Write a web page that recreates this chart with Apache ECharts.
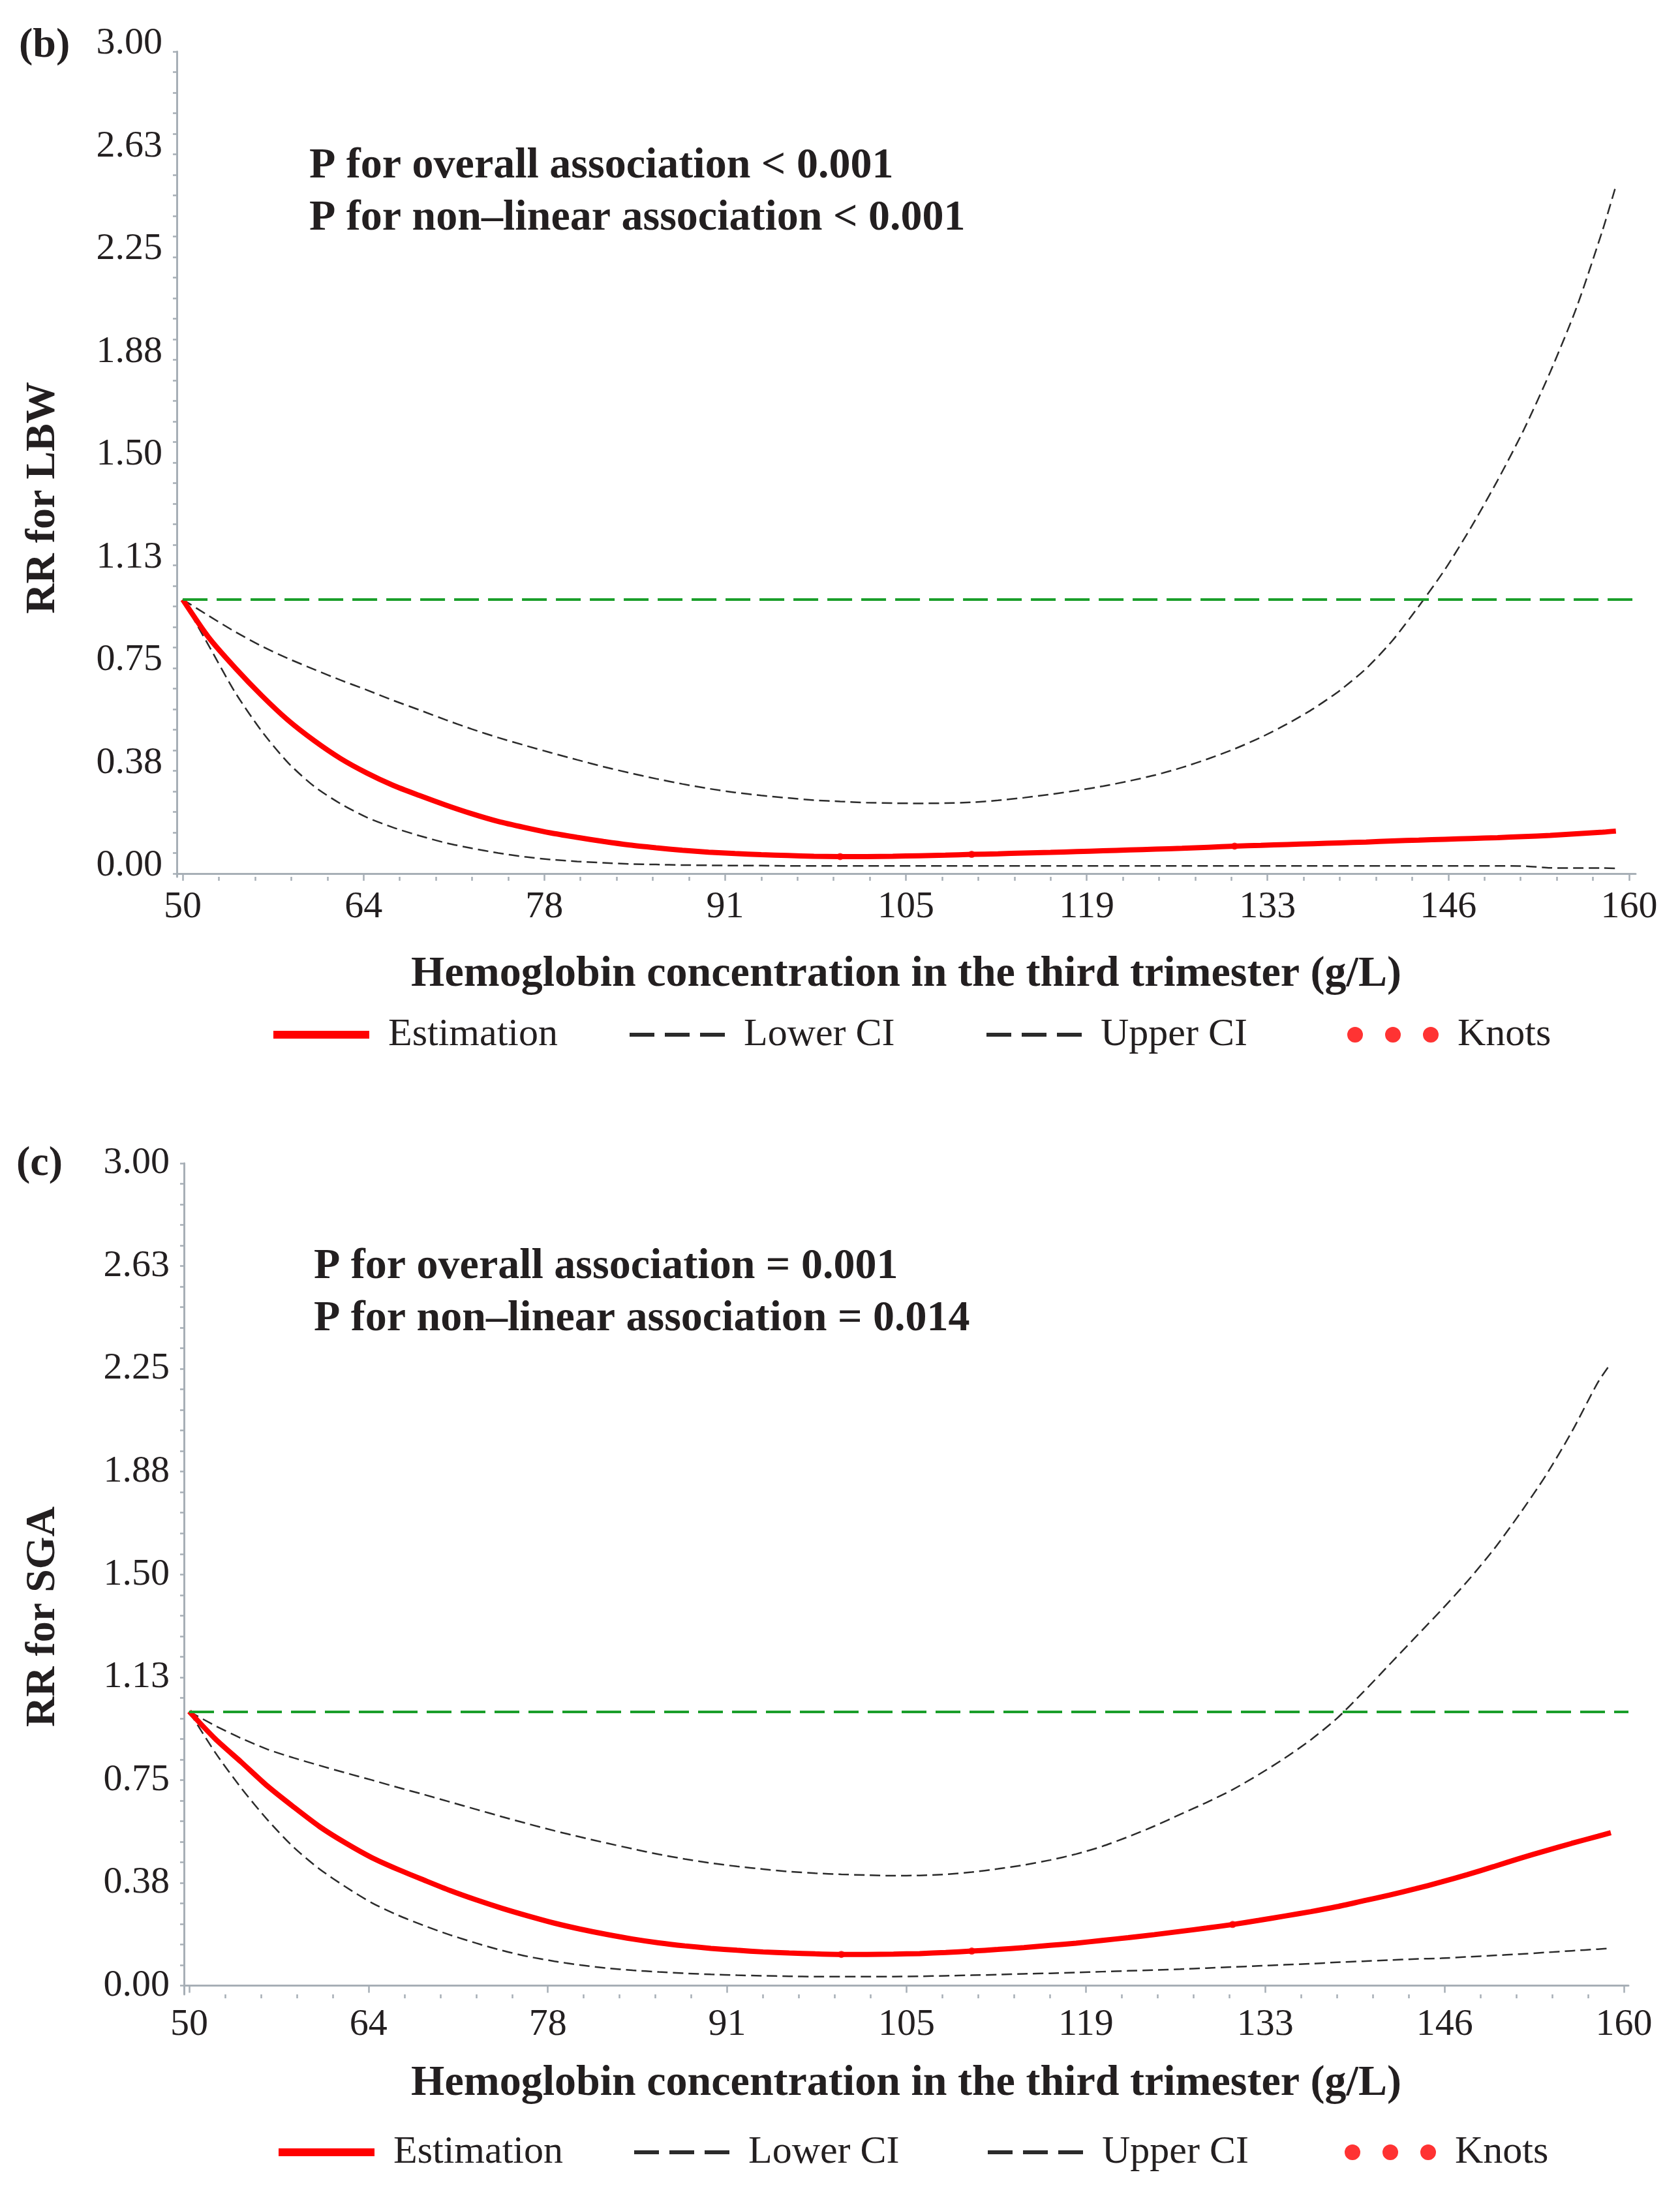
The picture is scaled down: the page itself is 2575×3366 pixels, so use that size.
<!DOCTYPE html>
<html>
<head>
<meta charset="utf-8">
<title>RR for LBW and SGA by third-trimester hemoglobin</title>
<script src="https://cdn.jsdelivr.net/npm/echarts@6/dist/echarts.min.js"></script>
<style>
html, body { margin: 0; padding: 0; background: #ffffff; }
#main { width: 2575px; height: 3366px; }
</style>
</head>
<body>
<div id="main"></div>
<script>
// hemoglobin values (g/L) where the curves were read
var hbX = [50, 52, 54, 56, 58, 60, 62, 64, 66, 68, 70, 72, 74, 76, 78, 80, 82, 84, 86, 88,
  90, 92, 94, 96, 98, 100, 102, 104, 106, 108, 110, 112, 114, 116, 118, 120, 122, 124, 126, 128,
  130, 132, 134, 136, 138, 140, 142, 144, 146, 148, 150, 152, 154, 156, 158, 159];

// (b) LBW
var lbwEst = [1.0, 0.86, 0.75, 0.65, 0.56, 0.485, 0.42, 0.367, 0.322, 0.285, 0.25, 0.218, 0.19, 0.168, 0.148, 0.132, 0.117, 0.104, 0.094, 0.085,
  0.078, 0.073, 0.069, 0.066, 0.063, 0.062, 0.062, 0.063, 0.065, 0.067, 0.07, 0.072, 0.075, 0.077, 0.08, 0.083, 0.086, 0.089, 0.092, 0.096,
  0.10, 0.103, 0.106, 0.109, 0.112, 0.115, 0.119, 0.122, 0.125, 0.128, 0.131, 0.135, 0.139, 0.145, 0.151, 0.155];
var lbwLower = [1.0, 0.83, 0.66, 0.52, 0.405, 0.318, 0.255, 0.205, 0.168, 0.138, 0.112, 0.092, 0.075, 0.061, 0.051, 0.044, 0.039, 0.035, 0.033, 0.031,
  0.03, 0.029, 0.029, 0.028, 0.028, 0.028, 0.028, 0.028, 0.028, 0.028, 0.028, 0.028, 0.028, 0.028, 0.028, 0.028, 0.028, 0.028, 0.028, 0.028,
  0.028, 0.028, 0.028, 0.028, 0.028, 0.028, 0.028, 0.028, 0.028, 0.028, 0.028, 0.027, 0.021, 0.02, 0.02, 0.019];
var lbwUpper = [1.0, 0.94, 0.882, 0.83, 0.785, 0.745, 0.706, 0.67, 0.632, 0.597, 0.561, 0.527, 0.496, 0.468, 0.441, 0.415, 0.39, 0.367, 0.346, 0.327,
  0.31, 0.296, 0.285, 0.276, 0.268, 0.263, 0.259, 0.257, 0.256, 0.257, 0.26, 0.267, 0.277, 0.289, 0.303, 0.319, 0.338, 0.36, 0.387, 0.419,
  0.455, 0.497, 0.546, 0.602, 0.668, 0.748, 0.85, 0.975, 1.11, 1.265, 1.435, 1.62, 1.83, 2.065, 2.35, 2.51];

// (c) SGA
var sgaEst = [1.0, 0.90, 0.815, 0.728, 0.652, 0.58, 0.52, 0.467, 0.424, 0.385, 0.347, 0.313, 0.282, 0.254, 0.228, 0.206, 0.187, 0.17, 0.156, 0.145,
  0.136, 0.129, 0.123, 0.119, 0.116, 0.114, 0.114, 0.115, 0.117, 0.121, 0.126, 0.132, 0.139, 0.147, 0.155, 0.165, 0.175, 0.186, 0.198, 0.21,
  0.223, 0.238, 0.254, 0.27, 0.288, 0.309, 0.33, 0.353, 0.378, 0.405, 0.434, 0.464, 0.492, 0.519, 0.545, 0.558];
var sgaLower = [1.0, 0.85, 0.72, 0.605, 0.505, 0.425, 0.36, 0.302, 0.257, 0.219, 0.185, 0.155, 0.128, 0.106, 0.089, 0.075, 0.064, 0.056, 0.05, 0.045,
  0.041, 0.038, 0.036, 0.034, 0.033, 0.033, 0.033, 0.033, 0.034, 0.036, 0.038, 0.04, 0.043, 0.045, 0.048, 0.051, 0.054, 0.057, 0.06, 0.064,
  0.068, 0.072, 0.076, 0.08, 0.085, 0.089, 0.093, 0.097, 0.10, 0.105, 0.11, 0.115, 0.121, 0.127, 0.133, 0.136];
var sgaUpper = [1.0, 0.948, 0.902, 0.862, 0.831, 0.803, 0.776, 0.75, 0.723, 0.697, 0.67, 0.643, 0.616, 0.59, 0.565, 0.542, 0.52, 0.499, 0.479, 0.462,
  0.447, 0.435, 0.425, 0.416, 0.41, 0.406, 0.403, 0.401, 0.402, 0.406, 0.414, 0.426, 0.44, 0.458, 0.48, 0.508, 0.543, 0.582, 0.625, 0.668,
  0.715, 0.77, 0.83, 0.897, 0.975, 1.07, 1.17, 1.27, 1.37, 1.475, 1.59, 1.72, 1.86, 2.02, 2.2, 2.27];

// spline knots
var knotX = [100, 110, 130];
var lbwKnots = [0.062, 0.07, 0.10];
var sgaKnots = [0.114, 0.126, 0.223];

// axis ticks
var xTicks = [50, 63.75, 77.5, 91.25, 105, 118.75, 132.5, 146.25, 160];
var yTicks = [0, 0.375, 0.75, 1.125, 1.5, 1.875, 2.25, 2.625, 3];
var refRR = 1;

var FONT = 'Liberation Serif';
var INK = '#231f20';
var AXIS_COLOR = '#a7afb6';
var CI_COLOR = '#2b2b2b';
var DASH_ICON = 'path://M0,0h38v6h-38zM54,0h38v6h-38zM108,0h38v6h-38z';
var DOT_ICON = 'path://M0,12a12,12 0 1,0 24,0a12,12 0 1,0 -24,0zM58,12a12,12 0 1,0 24,0a12,12 0 1,0 -24,0zM116,12a12,12 0 1,0 24,0a12,12 0 1,0 -24,0z';

function toPairs(xs, ys) {
    return xs.map(function (x, i) { return [x, ys[i]]; });
}

// ticks between the labelled ones (withMajor keeps the labelled ones too)
function splitTicks(ticks, parts, withMajor) {
    var out = [];
    for (var i = 0; i < ticks.length; i++) {
        if (withMajor) out.push(ticks[i]);
        if (i === ticks.length - 1) break;
        var step = (ticks[i + 1] - ticks[i]) / parts;
        for (var k = 1; k < parts; k++) out.push(ticks[i] + k * step);
    }
    return out;
}

var panels = [{
    tag: '(b)', yName: 'RR for LBW',
    est: lbwEst, lower: lbwLower, upper: lbwUpper, knots: lbwKnots,
    notes: ['P for overall association < 0.001', 'P for non\u2013linear association < 0.001'],
    left: 271, top: 79, width: 2236, height: 1265,
    xMin: 49.55, xMax: 160.5, yMin: -0.012,
    labelLift: 12, nameGap: 117,
    legendTop: 1556, legendLeft: [419, 965, 1512, 2065],
    tagPos: [29, 70], yNamePos: [66, 763], notePos: [474, 255]
}, {
    tag: '(c)', yName: 'RR for SGA',
    est: sgaEst, lower: sgaLower, upper: sgaUpper, knots: sgaKnots,
    notes: ['P for overall association = 0.001', 'P for non\u2013linear association = 0.014'],
    left: 282, top: 1783, width: 2214, height: 1274,
    xMin: 49.6, xMax: 160.35, yMin: -0.032,
    labelLift: 0, nameGap: 104,
    legendTop: 3269, legendLeft: [427, 972, 1514, 2061],
    tagPos: [25, 1784], yNamePos: [66, 2478], notePos: [481, 1942]
}];

var legendItems = [
    { name: 'Estimation', icon: 'rect', w: 147, h: 12 },
    { name: 'Lower CI', icon: DASH_ICON, w: 146, h: 6 },
    { name: 'Upper CI', icon: DASH_ICON, w: 146, h: 6 },
    { name: 'Knots', icon: DOT_ICON, w: 140, h: 24 }
];

var grid = [], xAxis = [], yAxis = [], series = [], legend = [], graphic = [];
var tickLine = { color: AXIS_COLOR, width: 2.5 };

panels.forEach(function (p, i) {
    grid.push({ left: p.left, top: p.top, width: p.width, height: p.height });

    // labelled x axis
    xAxis.push({
        type: 'value', gridIndex: i, position: 'bottom', min: p.xMin, max: p.xMax,
        name: 'Hemoglobin concentration in the third trimester (g/L)',
        nameLocation: 'middle', nameGap: p.nameGap,
        nameTextStyle: { fontFamily: FONT, fontWeight: 'bold', fontSize: 66, color: INK },
        axisLine: { show: true, lineStyle: { color: AXIS_COLOR, width: 3 } },
        axisTick: { show: true, customValues: xTicks, length: 11, lineStyle: tickLine },
        axisLabel: {
            customValues: xTicks, margin: 18, fontFamily: FONT, fontSize: 58, color: INK,
            formatter: function (v) { return String(Math.round(v)); }
        },
        splitLine: { show: false }
    });
    // minor x ticks
    xAxis.push({
        type: 'value', gridIndex: i, position: 'bottom', min: p.xMin, max: p.xMax,
        axisLine: { show: false },
        axisTick: { show: true, customValues: splitTicks(xTicks, 5, false), length: 6, lineStyle: tickLine },
        axisLabel: { show: false },
        splitLine: { show: false }
    });

    // panel (b) prints its y labels a little above the ticks
    var lift = p.labelLift;
    yAxis.push({
        type: 'value', gridIndex: i, min: p.yMin, max: 3,
        axisLine: { show: true, lineStyle: { color: AXIS_COLOR, width: 3 } },
        axisTick: { show: true, customValues: splitTicks(yTicks, 5, true), length: 6, lineStyle: tickLine },
        axisLabel: {
            customValues: yTicks, margin: 22, fontFamily: FONT, fontSize: 58, color: INK,
            verticalAlign: lift ? 'bottom' : 'middle',
            lineHeight: lift ? 2 * lift : 58,
            formatter: function (v) { return v.toFixed(2); }
        },
        splitLine: { show: false }
    });

    var xi = 2 * i;
    series.push({
        name: 'Upper CI', type: 'line', xAxisIndex: xi, yAxisIndex: i,
        data: toPairs(hbX, p.upper), symbol: 'none', smooth: 0.25,
        color: CI_COLOR, lineStyle: { color: CI_COLOR, width: 2.5, type: [16, 8] }, z: 2
    });
    series.push({
        name: 'Lower CI', type: 'line', xAxisIndex: xi, yAxisIndex: i,
        data: toPairs(hbX, p.lower), symbol: 'none', smooth: 0.25,
        color: CI_COLOR, lineStyle: { color: CI_COLOR, width: 2.5, type: [16, 8] }, z: 2
    });
    series.push({
        name: 'Estimation', type: 'line', xAxisIndex: xi, yAxisIndex: i,
        data: toPairs(hbX, p.est), symbol: 'none', smooth: 0.25,
        color: '#ff0000', lineStyle: { color: '#ff0000', width: 8 }, z: 3,
        markLine: {
            silent: true, symbol: ['none', 'none'], label: { show: false },
            lineStyle: { color: '#1a9e2a', width: 4, type: [38, 14] },
            data: [[{ coord: [hbX[0], refRR] }, { coord: [p.xMax, refRR] }]]
        }
    });
    series.push({
        name: 'Knots', type: 'scatter', xAxisIndex: xi, yAxisIndex: i,
        data: toPairs(knotX, p.knots), symbol: 'circle', symbolSize: 11,
        color: '#ff0000', z: 4
    });

    legendItems.forEach(function (it, k) {
        legend.push({
            left: p.legendLeft[k], top: p.legendTop, padding: 0,
            itemWidth: it.w, itemHeight: it.h, selectedMode: false,
            itemStyle: { borderWidth: 0 },
            data: [{ name: it.name, icon: it.icon }],
            textStyle: { fontFamily: FONT, fontSize: 60, lineHeight: 60, color: INK, padding: [0, 0, 0, 24] }
        });
    });

    var boldFont = 'bold 64px "' + FONT + '"';
    var noteFont = 'bold 66px "' + FONT + '"';
    graphic.push({
        type: 'text', x: p.tagPos[0], y: p.tagPos[1],
        style: { text: p.tag, font: boldFont, fill: INK, align: 'left', verticalAlign: 'middle' }
    });
    graphic.push({
        type: 'text', x: p.yNamePos[0], y: p.yNamePos[1], rotation: Math.PI / 2,
        style: { text: p.yName, font: boldFont, fill: INK, align: 'center', verticalAlign: 'middle' }
    });
    p.notes.forEach(function (t, k) {
        graphic.push({
            type: 'text', x: p.notePos[0], y: p.notePos[1] + 80 * k,
            style: { text: t, font: noteFont, fill: INK, align: 'left', verticalAlign: 'middle' }
        });
    });
});

var chart = echarts.init(document.getElementById('main'));
chart.setOption({
    backgroundColor: '#ffffff',
    animation: false,
    grid: grid,
    xAxis: xAxis,
    yAxis: yAxis,
    legend: legend,
    graphic: graphic,
    series: series
});
</script>
</body>
</html>
